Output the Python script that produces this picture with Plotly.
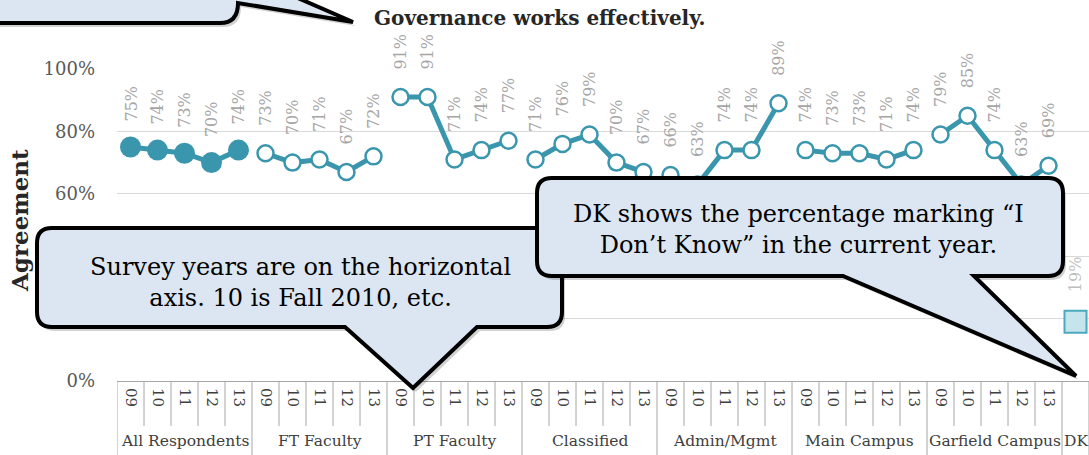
import plotly.graph_objects as go

# ---------------- data ----------------
groups = ["All Respondents", "FT Faculty", "PT Faculty", "Classified",
          "Admin/Mgmt", "Main Campus", "Garfield Campus"]
years = ["09", "10", "11", "12", "13"]
all_respondents = [75, 74, 73, 70, 74]
ft_faculty = [73, 70, 71, 67, 72]
pt_faculty = [91, 91, 71, 74, 77]
classified = [71, 76, 79, 70, 67]
admin_mgmt = [66, 63, 74, 74, 89]
main_campus = [74, 73, 73, 71, 74]
garfield_campus = [79, 85, 74, 63, 69]
dk_category = "DK"
dk_value = [19]
y_tick_values = [0, 20, 40, 60, 80, 100]

title_text = "Governance works effectively."
y_title = "Agreement"
callout_years = "Survey years are on the horizontal<br>axis. 10 is Fall 2010, etc."
callout_dk = "DK shows the percentage marking \u201cI<br>Don\u2019t Know\u201d in the current year."

series = [all_respondents, ft_faculty, pt_faculty, classified,
          admin_mgmt, main_campus, garfield_campus]

# ---------------- geometry helpers (page pixels -> paper) ----------------
W, H = 1089, 455
ML, MR, MT, MB = 117, 0, 69, 74
PW, PH = W - ML - MR, H - MT - MB


def px(x):
    return (x - ML) / PW


def py(y):
    return (H - MB - y) / PH


def path(points_cmds):
    out = []
    for item in points_cmds:
        cmd = item[0]
        if cmd == "Z":
            out.append("Z")
        elif cmd == "Q":
            (cx, cy), (ex, ey) = item[1], item[2]
            out.append(f"Q{px(cx):.5f},{py(cy):.5f} {px(ex):.5f},{py(ey):.5f}")
        else:
            x, y = item[1]
            out.append(f"{cmd}{px(x):.5f},{py(y):.5f}")
    return " ".join(out)


def bubble(x0, y0, x1, y1, r, pa, pb, tip, dx=0, dy=0):
    x0 += dx; x1 += dx; y0 += dy; y1 += dy; pa += dx; pb += dx
    tip = (tip[0] + dx, tip[1] + dy)
    return path([
        ("M", (x0 + r, y0)), ("L", (x1 - r, y0)), ("Q", (x1, y0), (x1, y0 + r)),
        ("L", (x1, y1 - r)), ("Q", (x1, y1), (x1 - r, y1)),
        ("L", (pb, y1)), ("L", tip), ("L", (pa, y1)),
        ("L", (x0 + r, y1)), ("Q", (x0, y1), (x0, y1 - r)),
        ("L", (x0, y0 + r)), ("Q", (x0, y0), (x0 + r, y0)), ("Z",)])


def top_left_bubble(dx=0, dy=0):
    return path([
        ("M", (-20 + dx, -60 + dy)), ("L", (238 + dx, -60 + dy)),
        ("L", (238 + dx, -28 + dy)), ("L", (353 + dx, 22 + dy)),
        ("L", (238 + dx, 3 + dy)), ("Q", (238 + dx, 23 + dy), (220 + dx, 23 + dy)),
        ("L", (-20 + dx, 23 + dy)), ("Z",)])


TEAL = "#3A96AD"
SERIF = "DejaVu Serif"

fig = go.Figure()

for gi, vals in enumerate(series):
    xs = [gi * len(years) + j for j in range(len(vals))]
    filled = gi == 0
    fig.add_trace(go.Scatter(
        x=xs, y=vals, mode="lines+markers",
        line=dict(color=TEAL, width=5),
        marker=dict(size=21 if filled else 16,
                    color=TEAL if filled else "white",
                    line=dict(color=TEAL, width=0 if filled else 2.5)),
        showlegend=False, hoverinfo="skip", cliponaxis=False))

dk_x = len(groups) * len(years)
fig.add_trace(go.Scatter(
    x=[dk_x], y=dk_value, mode="markers",
    marker=dict(symbol="square", size=22, color="#C6E4EB",
                line=dict(color="#4BA9BF", width=2)),
    showlegend=False, hoverinfo="skip", cliponaxis=False))

annotations = []
for gi, vals in enumerate(series):
    for j, v in enumerate(vals):
        annotations.append(dict(
            x=gi * len(years) + j, y=v, xref="x", yref="y", text=f"{v}%",
            textangle=-90, showarrow=False, xanchor="center", yanchor="bottom",
            yshift=23 if gi == 0 else 25, font=dict(family=SERIF, size=16, color="#A6A6A6")))
annotations.append(dict(
    x=dk_x, y=dk_value[0], xref="x", yref="y", text=f"{dk_value[0]}%",
    textangle=-90, showarrow=False, xanchor="center", yanchor="bottom",
    yshift=27, font=dict(family=SERIF, size=16, color="#BFBFBF")))

# group labels
for gi, g in enumerate(groups):
    annotations.append(dict(
        x=gi * len(years) + (len(years) - 1) / 2, y=py(441), xref="x", yref="paper",
        text=g, showarrow=False, xanchor="center", yanchor="middle",
        font=dict(family=SERIF, size=15.5, color="#404040")))
annotations.append(dict(
    x=dk_x, y=py(441), xref="x", yref="paper", text=dk_category, showarrow=False,
    xanchor="center", yanchor="middle", font=dict(family=SERIF, size=15.5, color="#404040")))

# title & axis title
annotations.append(dict(
    x=px(540), y=py(18), xref="paper", yref="paper", text=f"<b>{title_text}</b>",
    showarrow=False, xanchor="center", yanchor="middle",
    font=dict(family=SERIF, size=20, color="#262626")))
annotations.append(dict(
    x=px(19), y=py(221), xref="paper", yref="paper", text=f"<b>{y_title}</b>",
    textangle=-90, showarrow=False, xanchor="center", yanchor="middle",
    font=dict(family=SERIF, size=23, color="#262626")))

# callout texts
annotations.append(dict(
    x=px(300), y=py(282), xref="paper", yref="paper", text=callout_years,
    showarrow=False, xanchor="center", yanchor="middle", align="center",
    font=dict(family=SERIF, size=24, color="black")))
annotations.append(dict(
    x=px(798), y=py(229), xref="paper", yref="paper", text=callout_dk,
    showarrow=False, xanchor="center", yanchor="middle", align="center",
    font=dict(family=SERIF, size=24, color="black")))

shapes = []
# axis cell separators
n_cells = dk_x + 1
for b in range(n_cells + 1):
    is_group = (b % len(years) == 0) or b >= dk_x
    shapes.append(dict(
        type="line", xref="x", yref="paper", x0=b - 0.5, x1=b - 0.5,
        y0=0, y1=py(455) if is_group else py(426),
        line=dict(color="#A6A6A6", width=1)))

fill = "#DCE6F2"
shadow = "rgba(0,0,0,0.18)"
# top-left callout
shapes.append(dict(type="path", xref="paper", yref="paper", path=top_left_bubble(3, 4),
                   fillcolor=shadow, line=dict(width=0), layer="above"))
shapes.append(dict(type="path", xref="paper", yref="paper", path=top_left_bubble(),
                   fillcolor=fill, line=dict(color="black", width=4), layer="above"))
# survey years callout
sv = (37, 228, 562, 327, 15, 345, 477, (413, 388))
shapes.append(dict(type="path", xref="paper", yref="paper", path=bubble(*sv, dx=3, dy=4),
                   fillcolor=shadow, line=dict(width=0), layer="above"))
shapes.append(dict(type="path", xref="paper", yref="paper", path=bubble(*sv),
                   fillcolor=fill, line=dict(color="black", width=4), layer="above"))
# DK callout
dk = (537, 178, 1063, 276, 15, 843, 974, (1076, 376))
shapes.append(dict(type="path", xref="paper", yref="paper", path=bubble(*dk, dx=3, dy=4),
                   fillcolor=shadow, line=dict(width=0), layer="above"))
shapes.append(dict(type="path", xref="paper", yref="paper", path=bubble(*dk),
                   fillcolor=fill, line=dict(color="black", width=4), layer="above"))

fig.update_layout(
    width=W, height=H, autosize=False,
    margin=dict(l=ML, r=MR, t=MT, b=MB, pad=0),
    paper_bgcolor="white", plot_bgcolor="white",
    showlegend=False,
    xaxis=dict(range=[-0.5, n_cells - 0.5], tickmode="array",
               tickvals=list(range(dk_x)), ticktext=years * len(groups),
               tickangle=90, tickfont=dict(family=SERIF, size=15, color="#404040"),
               showgrid=False, zeroline=False, showline=True, linecolor="#A6A6A6",
               linewidth=1, ticks="", ticklabelstandoff=3, fixedrange=True),
    yaxis=dict(range=[0, 100], tickmode="array", tickvals=y_tick_values,
               ticktext=[f"{v}%" for v in y_tick_values],
               tickfont=dict(family=SERIF, size=18, color="#595959"),
               showgrid=True, gridcolor="#D9D9D9", gridwidth=1,
               zeroline=False, showline=False, ticks="", ticklabelstandoff=21,
               fixedrange=True),
    annotations=annotations, shapes=shapes,
)

fig.write_html("out.html", config={"displayModeBar": False})
